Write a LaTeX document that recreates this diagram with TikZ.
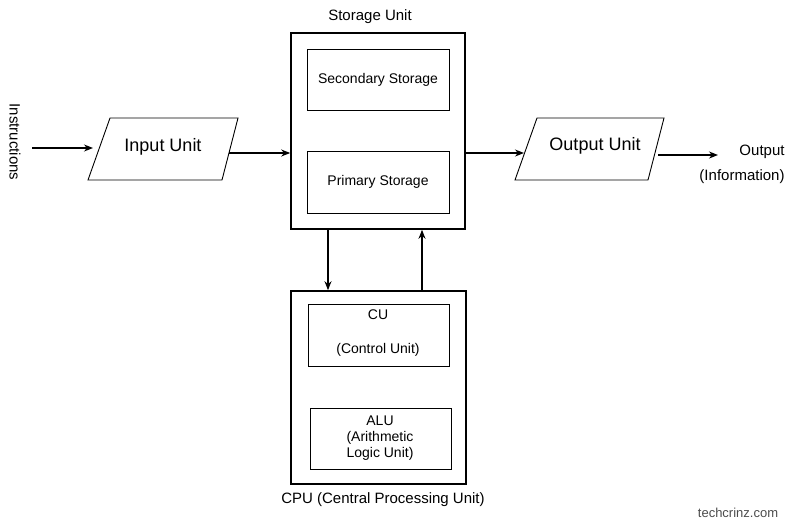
\documentclass[tikz,border=0pt]{standalone}
\usepackage{fontspec}
\setmainfont{Liberation Sans}
\usetikzlibrary{arrows.meta}
\begin{document}
\begin{tikzpicture}[x=1pt,y=-1pt,
  arr/.style={-{Stealth[length=9pt,width=7pt]},line width=1.3pt},
  outer/.style={draw,line width=1.6pt},
  inner/.style={draw,line width=0.9pt},
  lab/.style={font=\fontsize{15}{18}\selectfont,align=center}]
\useasboundingbox (0,0) rectangle (800,530);
\node[rotate=-90,lab] (ins) at (15,142) {Instructions};
\coordinate (insR) at (32,148);
% input
\draw[inner] (110,118) -- (238,118) -- (222,180) -- (88,180) -- cycle;
\node[font=\fontsize{18}{21}\selectfont] (in) at (163,147) {Input Unit};
\coordinate (inL) at (93,148);
\coordinate (inR) at (229,153);
% storage
\node[outer,minimum width=174pt,minimum height=196pt] (st) at (378,131) {};
\node[lab,above] at (370,27) {Storage Unit};
\node[inner,minimum width=142pt,minimum height=61pt,font=\fontsize{14}{17}\selectfont] (sec) at (378,79.5) {Secondary Storage};
\node[inner,minimum width=142pt,minimum height=62pt,font=\fontsize{14}{17}\selectfont] (pri) at (378,182) {Primary Storage};
% output
\draw[inner] (537,118) -- (664,118) -- (648,180) -- (515,180) -- cycle;
\node[font=\fontsize{18}{21}\selectfont] (out) at (595,146) {Output Unit};
\coordinate (outL) at (524,153);
\coordinate (outR) at (658,155);
\coordinate (oe) at (718,155);
\node[lab] (o1) at (762,152) {Output};
\node[lab] (o2) at (742,177) {(Information)};
% CPU
\node[outer,minimum width=175pt,minimum height=193pt] (cpu) at (378.5,387.5) {};
\node[lab] at (383,500) {CPU (Central Processing Unit)};
\node[inner,minimum width=141pt,minimum height=62pt] (cu) at (378.5,335) {};
\node[font=\fontsize{14}{17}\selectfont] at (378,315) {CU};
\node[font=\fontsize{14}{17}\selectfont] at (378,350) {(Control Unit)};
\node[inner,minimum width=141pt,minimum height=61pt] (alu) at (380.5,438.5) {};
\node[font=\fontsize{14}{17}\selectfont,align=center] at (380,438) {ALU\\[-1pt](Arithmetic\\[-1pt]Logic Unit)};
% arrows
\draw[arr] (insR) -- (inL);
\draw[arr] (inR) -- (st.west |- inR);
\draw[arr] (st.east |- outL) -- (outL);
\draw[arr] (outR) -- (oe);
\draw[arr] (st.south -| 328,0) -- (cpu.north -| 328,0);
\draw[arr] (cpu.north -| 422,0) -- (st.south -| 422,0);
\node[font=\fontsize{13}{15}\selectfont,text=black!70] at (738,513) {techcrinz.com};
\end{tikzpicture}
\end{document}
